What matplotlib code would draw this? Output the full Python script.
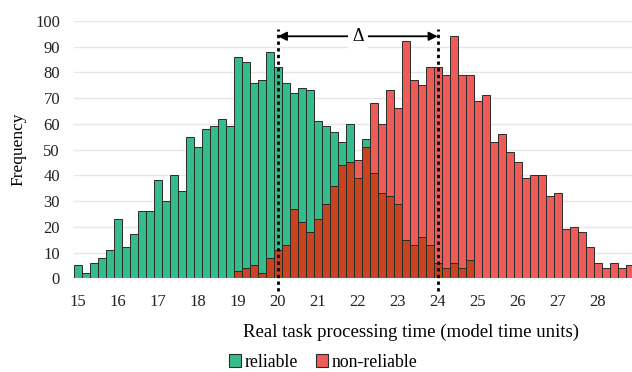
import numpy as np
import matplotlib
matplotlib.use('Agg')
import matplotlib.pyplot as plt
from matplotlib.patches import Patch

plt.rcParams['font.family'] = ['Liberation Serif', 'DejaVu Serif']

# bin centres 15.0 .. 28.8, step 0.2
bins = np.round(np.arange(150, 289, 2) / 10.0, 1)

# reliable tasks (15.0 .. 24.8), zero afterwards
reliable = [5, 2, 6, 8, 11, 23, 12, 17, 26, 26,
            38, 30, 40, 34, 55, 51, 58, 59, 62, 59,
            86, 84, 76, 77, 88, 82, 76, 72, 74, 73,
            61, 59, 57, 53, 60, 39, 54, 41, 33, 32,
            29, 15, 13, 16, 13, 6, 4, 6, 4, 7]
reliable = reliable + [0] * (len(bins) - len(reliable))

# non-reliable tasks (start at 19.0)
non_reliable = [3, 4, 5, 2, 8, 11, 13, 27, 22, 18,
                23, 29, 36, 44, 45, 46, 51, 68, 60, 73,
                66, 92, 77, 75, 82, 82, 79, 94, 79, 79,
                69, 71, 53, 56, 49, 45, 39, 40, 40, 32,
                33, 19, 20, 18, 12, 6, 4, 6, 4, 5]
non_reliable = [0] * (len(bins) - len(non_reliable)) + non_reliable

reliable = np.array(reliable)
non_reliable = np.array(non_reliable)
overlap = np.minimum(reliable, non_reliable)

green = '#35BC8B'
red = '#EE5C5A'
dark = '#C8441F'
edge = '#2a2a2a'

fig = plt.figure(figsize=(6.32, 3.72), dpi=100)
ax = fig.add_axes([0.117, 0.252, 0.883, 0.692])

ax.bar(bins, reliable, width=0.2, color=green, edgecolor=edge, linewidth=0.7, zorder=2)
ax.bar(bins, non_reliable, width=0.2, color=red, edgecolor=edge, linewidth=0.7, zorder=3)
ax.bar(bins, overlap, width=0.2, color=dark, edgecolor=edge, linewidth=0.7, zorder=4)

ax.set_xlim(14.9, 28.86)
ax.set_ylim(0, 100)
ax.set_yticks(range(0, 101, 10))
ax.set_xticks(range(15, 29))
ax.tick_params(length=0, labelsize=12, colors='#222222')
ax.tick_params(axis='x', pad=11)
ax.tick_params(axis='y', pad=10)
ax.grid(axis='y', color='#e6e6e6', linewidth=1, zorder=0)
ax.set_axisbelow(True)
for s in ax.spines.values():
    s.set_visible(False)

# delta markers
for xv in (20, 24):
    ax.plot([xv, xv], [-5, 97], color='black', lw=2, linestyle=(0, (1.2, 1.2)),
            zorder=6, clip_on=False)
ax.annotate('', xy=(24, 94), xytext=(20, 94),
            arrowprops=dict(arrowstyle='<|-|>', color='black', lw=1.3,
                            mutation_scale=13, shrinkA=0, shrinkB=0), zorder=7)
ax.text(22, 94, 'Δ', ha='center', va='center', fontsize=13,
        bbox=dict(facecolor='white', edgecolor='none', pad=3), zorder=8)

ax.set_ylabel('Frequency', fontsize=12.5, labelpad=6)
ax.set_xlabel('Real task processing time (model time units)', fontsize=13.5)
ax.xaxis.set_label_coords(0.604, -0.175)

handles = [Patch(facecolor=green, edgecolor=edge, linewidth=0.8, label='reliable'),
           Patch(facecolor=red, edgecolor=edge, linewidth=0.8, label='non-reliable')]
fig.legend(handles=handles, loc='center', bbox_to_anchor=(0.511, 0.026), ncol=2,
           frameon=False, fontsize=12.8, handlelength=0.7, handleheight=0.7,
           handletextpad=0.2, columnspacing=1.0)

fig.savefig('out.png', dpi=100)
